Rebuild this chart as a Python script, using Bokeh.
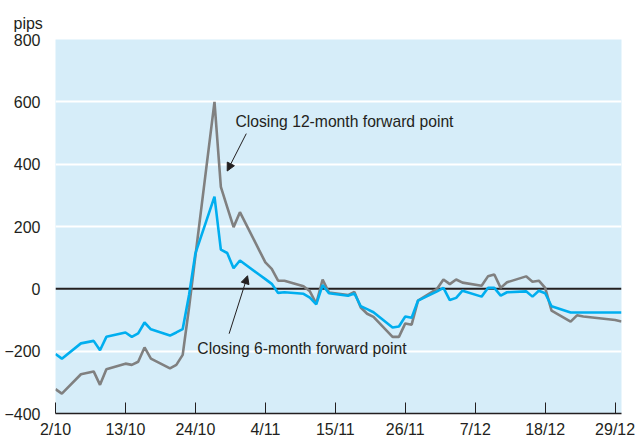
import pandas as pd
from bokeh.plotting import figure
from bokeh.models import Range1d, FixedTicker, Span, Label, Arrow, NormalHead
from bokeh.embed import file_html
from bokeh.resources import INLINE

# ---- data (HK business days, Oct-Dec 2008) ----
dates = ["2008-10-02", "2008-10-03", "2008-10-06", "2008-10-08", "2008-10-09", "2008-10-10",
         "2008-10-13", "2008-10-14", "2008-10-15", "2008-10-16", "2008-10-17",
         "2008-10-20", "2008-10-21", "2008-10-22", "2008-10-23", "2008-10-24",
         "2008-10-27", "2008-10-28", "2008-10-29", "2008-10-30", "2008-10-31",
         "2008-11-03", "2008-11-04", "2008-11-05", "2008-11-06", "2008-11-07",
         "2008-11-10", "2008-11-11", "2008-11-12", "2008-11-13", "2008-11-14",
         "2008-11-17", "2008-11-18", "2008-11-19", "2008-11-20", "2008-11-21",
         "2008-11-24", "2008-11-25", "2008-11-26", "2008-11-27", "2008-11-28",
         "2008-12-01", "2008-12-02", "2008-12-03", "2008-12-04", "2008-12-05",
         "2008-12-08", "2008-12-09", "2008-12-10", "2008-12-11", "2008-12-12",
         "2008-12-15", "2008-12-16", "2008-12-17", "2008-12-18", "2008-12-19",
         "2008-12-22", "2008-12-23", "2008-12-24", "2008-12-29", "2008-12-30"]

# closing 6-month forward point (pips)
six_month = [-209, -224, -175, -167, -197, -154,
             -140, -154, -143, -108, -130,
             -150, -140, -129, -20, 114,
             296, 126, 115, 66, 91,
             46, 31, 16, -13, -11,
             -16, -28, -50, 12, -14,
             -22, -15, -56, -65, -75,
             -124, -121, -89, -93, -38,
             -8, 3, -36, -29, -6,
             -25, 3, 3, -22, -11,
             -8, -25, -6, -14, -56,
             -76, -76, -76, -76, -76]

# closing 12-month forward point (pips)
twelve_month = [-322, -336, -274, -265, -308, -258,
                -240, -244, -234, -188, -224,
                -255, -244, -212, -60, 106,
                600, 327, 262, 198, 246,
                125, 85, 64, 26, 26,
                8, -8, -47, 30, -12,
                -20, -10, -60, -80, -90,
                -154, -154, -111, -115, -38,
                0, 30, 15, 30, 20,
                10, 40, 46, 3, 21,
                40, 23, 26, 3, -70,
                -105, -85, -89, -100, -105]

tick_dates = ["2008-10-02", "2008-10-13", "2008-10-24", "2008-11-04", "2008-11-15",
              "2008-11-26", "2008-12-07", "2008-12-18", "2008-12-29"]
tick_labels = ["2/10", "13/10", "24/10", "4/11", "15/11", "26/11", "7/12", "18/12", "29/12"]
y_ticks = [-400, -200, 0, 200, 400, 600, 800]
grid_values = [-200, 200, 400, 600]

base = pd.Timestamp(dates[0])
days = [(pd.Timestamp(d) - base).days for d in dates]
tick_days = [(pd.Timestamp(d) - base).days for d in tick_dates]

FONT = "Liberation Sans"
FS = "16px"
FS_NOTE = "15.7px"
TXT = "#231f20"
BLUE = "#00aeef"
GREY = "#808080"

p = figure(width=637, height=441, output_backend="svg", toolbar_location=None,
           x_range=Range1d(0, 89), y_range=Range1d(-400, 800),
           min_border_left=55, min_border_right=16, min_border_top=39, min_border_bottom=28)

p.background_fill_color = "#d6edf9"
p.border_fill_color = "white"
p.outline_line_color = None

# unit label as a left-shifted title
p.title.text = "pips"
p.title.align = "left"
p.title.offset = -42
p.title.standoff = 15
p.title.text_font = FONT
p.title.text_font_size = FS
p.title.text_font_style = "normal"
p.title.text_color = TXT

p.xgrid.visible = False
p.ygrid.ticker = FixedTicker(ticks=grid_values)
p.ygrid.grid_line_color = "white"
p.ygrid.grid_line_width = 2

zero = Span(location=0, dimension="width", line_color=TXT, line_width=2, level="underlay")
p.add_layout(zero)

p.line(days, twelve_month, line_color=GREY, line_width=2.6)
p.line(days, six_month, line_color=BLUE, line_width=2.6)

# x axis
xa = p.xaxis[0]
xa.ticker = FixedTicker(ticks=tick_days)
xa.major_label_overrides = {d: l for d, l in zip(tick_days, tick_labels)}
xa.axis_line_color = TXT
xa.axis_line_width = 1.5
xa.major_tick_in = 11
xa.major_tick_out = 0
xa.major_tick_line_color = TXT
xa.major_tick_line_width = 1
xa.minor_tick_line_color = None
xa.major_label_standoff = 7
xa.major_label_text_font = FONT
xa.major_label_text_font_size = FS
xa.major_label_text_color = TXT

# y axis
ya = p.yaxis[0]
ya.ticker = FixedTicker(ticks=y_ticks)
ya.axis_line_color = None
ya.major_tick_line_color = None
ya.minor_tick_line_color = None
ya.major_tick_in = 0
ya.major_tick_out = 0
ya.major_label_standoff = 15
ya.major_label_text_font = FONT
ya.major_label_text_font_size = FS
ya.major_label_text_color = TXT

# annotations
p.add_layout(Label(x=28.3, y=536, text="Closing 12-month forward point", text_font=FONT,
                   text_font_size=FS_NOTE, text_color=TXT, text_align="left", text_baseline="middle"))
p.add_layout(Label(x=22.3, y=-192, text="Closing 6-month forward point", text_font=FONT,
                   text_font_size=FS_NOTE, text_color=TXT, text_align="left", text_baseline="middle"))

p.add_layout(Arrow(end=NormalHead(size=8, fill_color=TXT, line_color=TXT, line_width=1),
                   x_start=30.0, y_start=498, x_end=27.0, y_end=378,
                   line_color=TXT, line_width=1))
p.add_layout(Arrow(end=NormalHead(size=8, fill_color=TXT, line_color=TXT, line_width=1),
                   x_start=27.3, y_start=-144, x_end=30.2, y_end=42,
                   line_color=TXT, line_width=1))

open("out.html", "w").write(file_html(p, INLINE))
